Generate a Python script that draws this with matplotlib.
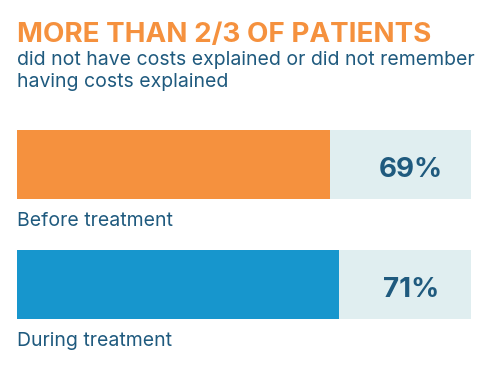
import matplotlib
matplotlib.use("Agg")
import matplotlib.pyplot as plt

categories = ["Before treatment", "During treatment"]
values = [69, 71]
value_labels = ["69%", "71%"]
title = "MORE THAN 2/3 OF PATIENTS"
subtitle_lines = ["did not have costs explained or did not remember",
                  "having costs explained"]

W, H = 483, 377
fig = plt.figure(figsize=(W / 100, H / 100), dpi=100)
fig.patch.set_facecolor("white")

bar_colors = ["#F5913E", "#1796CD"]
bg_color = "#E0EEF0"
text_dark = "#1F5A7E"
title_color = "#F5913E"
font = "Inter"

ax = fig.add_axes([17 / W, 1 - 319 / H, 454 / W, 189 / H])
h = 0.575
unit = 120.0  # pixels per category step
ypos = list(range(len(categories)))
ax.barh(ypos, [100] * len(categories), height=h, color=bg_color, left=0)
ax.barh(ypos, values, height=h, color=bar_colors)
ax.set_xlim(0, 100)
ax.set_ylim(len(categories) - 1 + h / 2, -h / 2)
ax.axis("off")

for i, (cat, lab) in enumerate(zip(categories, value_labels)):
    ax.text(86.8, i + 12.5 / unit, lab, ha="center", va="baseline", fontsize=20,
            fontweight="bold", color=text_dark, family=font)
    ax.text(0, i + h / 2 + 27.5 / unit, cat, ha="left", va="baseline", fontsize=14,
            color=text_dark, family=font)

fig.text(17 / W, 1 - 42 / H, title, ha="left", va="baseline", fontsize=20,
         fontweight="bold", color=title_color, family=font)
for k, line in enumerate(subtitle_lines):
    fig.text(17 / W, 1 - (65 + 22 * k) / H, line, ha="left", va="baseline",
             fontsize=14, color=text_dark, family=font)

fig.savefig("out.png", dpi=100, facecolor="white")
